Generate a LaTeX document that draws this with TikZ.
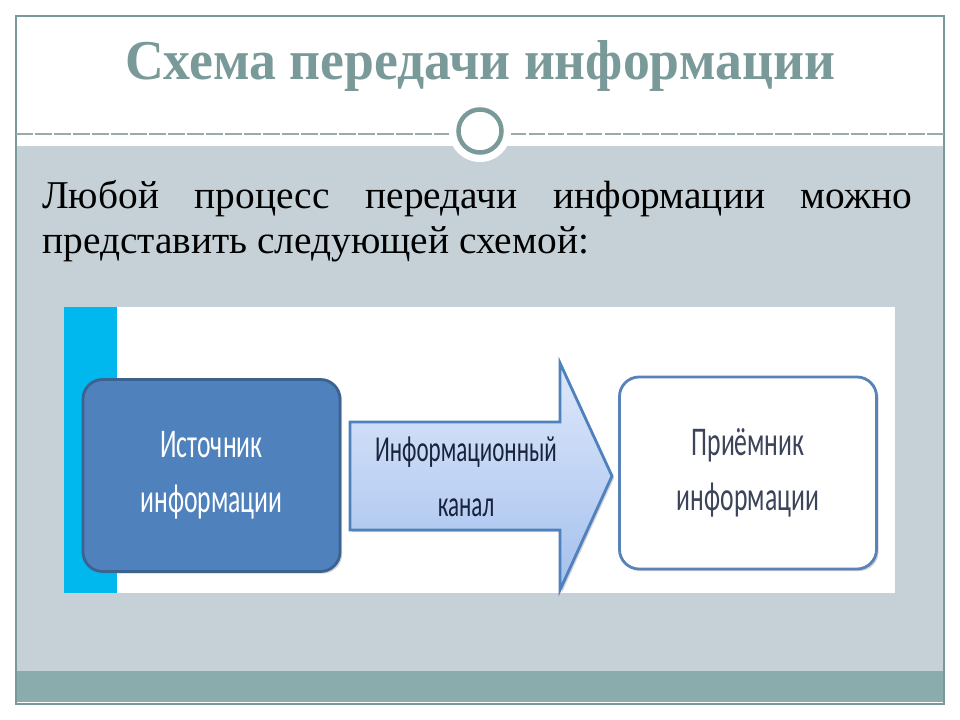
\documentclass[tikz,border=0pt]{standalone}
\usepackage{fontspec}
\setmainfont{Liberation Serif}
\newfontfamily\boxfont{Carlito}
\usetikzlibrary{positioning,shadows}
\definecolor{slideteal}{RGB}{122,153,153}
\definecolor{slideband}{RGB}{197,209,215}
\definecolor{slidefoot}{RGB}{138,172,173}
\definecolor{srcblue}{RGB}{79,129,189}
\definecolor{srcedge}{RGB}{60,98,145}
\definecolor{dstedge}{RGB}{88,130,184}
\definecolor{chantop}{RGB}{222,232,250}
\definecolor{chanbot}{RGB}{164,192,238}
\definecolor{chantext}{RGB}{25,35,60}
\definecolor{stripe}{RGB}{0,184,238}
\newcommand{\narrow}[1]{\scalebox{0.63}[1]{#1}}
\begin{document}
\begin{tikzpicture}[x=0.025cm,y=-0.025cm,
  blockbox/.style={rounded corners=14pt,line width=2pt,minimum width=6.425cm,minimum height=4.8cm,
    align=center,font=\boxfont\fontsize{29}{39}\selectfont,
    drop shadow={shadow xshift=1.5pt,shadow yshift=-1.5pt,opacity=0.35}},
  srcbox/.style={blockbox,fill=srcblue,draw=srcedge,text=white},
  dstbox/.style={blockbox,fill=white,draw=dstedge,text=chantext!85!white}]
\useasboundingbox (0,0) rectangle (960,720);
\fill[white] (0,0) rectangle (960,720);
% slide background
\fill[slideband] (16,146) rectangle (944,671);
\fill[slidefoot] (16,671) rectangle (944,702);
\draw[slideteal,line width=1pt] (16,16) rectangle (944,704);
\draw[slideteal!80!white,line width=1pt,dash pattern=on 12pt off 1.5pt] (16,134) -- (944,134);
\fill[white] (480,131) circle (31);
\draw[slideteal,line width=3.2pt] (480,131) circle (21.5);
% title and text
\node[text=slideteal,font=\bfseries\fontsize{40}{48}\selectfont] (title) at (480,66)
  {\scalebox{0.955}[1]{Схема передачи информации}};
\node[anchor=north west,text width=21.75cm,align=justify,inner sep=0pt,
  font=\fontsize{28}{32}\selectfont] (intro) at (42,180)
  {Любой процесс передачи информации можно представить следующей схемой:};
% picture
\fill[white] (64,307) rectangle (895,593);
\fill[stripe] (64,307) rectangle (117,593);
\node[srcbox] (src) at (211.5,475.5) {\narrow{Источник}\\\narrow{информации}};
\node[dstbox] (dst) at (748,473) {\narrow{Приёмник}\\\narrow{информации}};
\path[draw=srcblue,line width=2pt,line join=miter,top color=chantop,bottom color=chanbot,
  drop shadow={shadow xshift=1.5pt,shadow yshift=-1.5pt,opacity=0.35}]
  (350,422) -- (560,422) -- (560,363) -- (612,476) -- (560,590) -- (560,530) -- (350,530) -- cycle;
\node[align=center,text=chantext,font=\boxfont\fontsize{26}{39}\selectfont] (chan) at (466,477)
  {\narrow{Информационный}\\\narrow{канал}};
\end{tikzpicture}
\end{document}
